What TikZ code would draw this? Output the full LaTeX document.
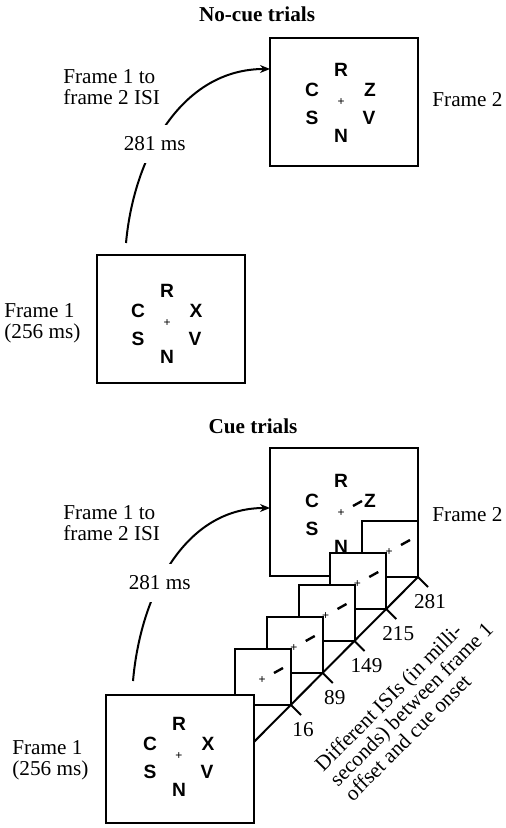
\documentclass[tikz,border=0pt]{standalone}
\usepackage{fontspec}
\setmainfont{Liberation Serif}
\setsansfont{Liberation Sans}
\usetikzlibrary{arrows.meta}

\tikzset{
  screen/.style={draw, line width=1pt, fill=white, inner sep=0pt, outer sep=0pt, minimum width=74pt, minimum height=64pt},
  cuebox/.style={draw, line width=1pt, fill=white, inner sep=0pt, outer sep=0pt, minimum size=28pt},
  letter/.style={font=\sffamily\bfseries\fontsize{9.6}{9.6}\selectfont, inner sep=0pt},
  fix/.style={font=\sffamily\fontsize{6}{6}\selectfont, inner sep=0pt},
  lbl/.style={font=\fontsize{10.6}{10.5}\selectfont, align=left, inner sep=0pt},
  head/.style={font=\bfseries\fontsize{10.6}{10.5}\selectfont, inner sep=0pt},
  isi/.style={line width=1pt, -{Stealth[length=5pt,width=4pt]}},
  cue/.style={line width=1.2pt},
  axisline/.style={line width=1pt}
}

\begin{document}
\begin{tikzpicture}[x=0.5pt,y=-0.5pt]
\useasboundingbox (0,0) rectangle (505,828);

% no-cue trials
\node[head] (nocue) at (257,14) {No-cue trials};
\node[screen] (f2a) at (344,102) {};
\node[screen] (f1a) at (171,319) {};
\node[fix] (pa) at (341,102) {+};
\node[fix] (pb) at (167,323) {+};
\node[lbl, anchor=west] (l2a) at (432,100) {Frame 2};
\node[lbl, anchor=west] (l1a) at (4,323) {Frame 1\\(256 ms)};
\node[lbl, anchor=west] (isia) at (63,87) {Frame 1 to\\frame 2 ISI};
\draw[isi] ([shift={(-45,-12)}]f1a.north) .. controls +(8,-88) and +(-88,0) .. ([shift={(0,-33)}]f2a.west)
  node[lbl, pos=0.4, fill=white, inner xsep=2pt, inner ysep=6pt] (msa) {281 ms};

% cue trials
\node[head] (cuet) at (253,426) {Cue trials};
\node[screen] (f2b) at (344,512) {};
\node[fix] (pc) at (341,513) {+};
\draw[cue] ([shift={(12,-7)}]pc.center) -- ++(9,-5);
\node[lbl, anchor=west] (l2b) at (432,515) {Frame 2};

\foreach \p/\u in {pa/Z, pb/X, pc/Z}
  \foreach \l/\dx/\dy in {R/0/-32, C/-29/-12, \u/29/-12, S/-29/16, V/28/16, N/0/34}
    \node[letter] at ([shift={(\dx,\dy)}]\p) {\l};

% cue frames at the five ISIs
\foreach \i/\t in {0/281, 1/215, 2/149, 3/89, 4/16} {
  \node[cuebox] (isi\i) at (390-31.75*\i, 549+32*\i) {};
  \node[fix] (cp\i) at ([shift={(-1,3)}]isi\i) {+};
  \draw[cue] ([shift={(12,-7)}]cp\i.center) -- ++(9,-5);
  \draw[axisline] (isi\i.south east) -- ++(10,10);
  \node[lbl] (tl\i) at ([shift={(12,25)}]isi\i.south east) {\t};
}
\draw[axisline] (isi0.south east) -- ([shift={(-60,60)}]isi4.south east);

\node[screen] (f1b) at (180,759) {};
\node[fix] (pd) at (179,756) {+};
\foreach \l/\dx/\dy in {R/0/-32, C/-29/-12, X/29/-12, S/-29/16, V/28/16, N/0/34}
  \node[letter] at ([shift={(\dx,\dy)}]pd) {\l};
\node[lbl, anchor=west] (l1b) at (12,760) {Frame 1\\(256 ms)};
\node[lbl, anchor=west] (isib) at (63,523) {Frame 1 to\\frame 2 ISI};
\draw[isi] ([shift={(-47,-14)}]f1b.north) .. controls +(7.5,-86) and +(-86,0) .. ([shift={(0,-4)}]f2b.west)
  node[lbl, pos=0.4, fill=white, inner xsep=2pt, inner ysep=6pt] (msb) {281 ms};

\node[lbl, rotate=45] (note) at (411,704) {Different ISIs (in milli-\\seconds) between frame 1\\offset and cue onset};
\end{tikzpicture}
\end{document}
